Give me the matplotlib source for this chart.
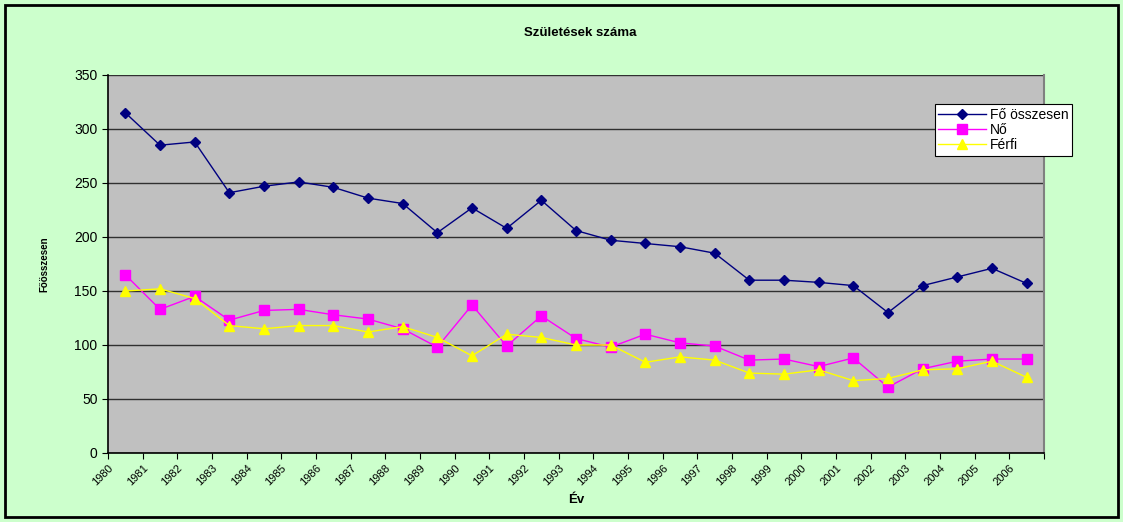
import matplotlib.pyplot as plt
import numpy as np
from matplotlib.patches import Rectangle

plt.rcParams['font.family'] = ['Liberation Sans', 'DejaVu Sans']

#Data
years = [str(y) for y in range(1980, 2007)]
fo_osszesen = [315, 285, 288, 241, 247, 251, 246, 236, 231, 204, 227, 208, 234, 206,
               197, 194, 191, 185, 160, 160, 158, 155, 130, 155, 163, 171, 157]
no = [165, 133, 145, 123, 132, 133, 128, 124, 115, 98, 137, 99, 127, 106,
      98, 110, 102, 99, 86, 87, 80, 88, 61, 78, 85, 87, 87]
ferfi = [150, 152, 143, 118, 115, 118, 118, 112, 117, 107, 90, 110, 107, 100,
         100, 84, 89, 86, 74, 73, 77, 67, 69, 77, 78, 85, 70]

bg = '#CCFFCC'
fig = plt.figure(figsize=(11.23, 5.22), dpi=100, facecolor=bg)
ax = fig.add_axes([108/1123, 69/522, 936/1123, 378/522])
ax.set_facecolor('#C0C0C0')

#Outer border
fig.patches.append(Rectangle((5/1123, 5/522), 1113/1123, 512/522, transform=fig.transFigure,
                             fill=False, edgecolor='black', linewidth=2))

x = np.arange(len(years)) + 0.5
ax.plot(x, fo_osszesen, color='#000080', marker='D', markersize=5.5, linewidth=1, label='Fő összesen', zorder=3)
ax.plot(x, no, color='#FF00FF', marker='s', markersize=6.5, linewidth=1, label='Nő', zorder=3)
ax.plot(x, ferfi, color='#FFFF00', marker='^', markersize=7.5, linewidth=1, label='Férfi', zorder=3)

ax.set_xlim(0, len(years))
ax.set_ylim(0, 350)
ax.set_yticks(np.arange(0, 351, 50))
ax.set_xticks(np.arange(len(years) + 1))
ax.set_xticklabels(years + [''], rotation=45, ha='right', rotation_mode='anchor', fontsize=8)
ax.tick_params(axis='y', labelsize=10, length=4, direction='out')
ax.tick_params(axis='x', length=4, direction='out', pad=3)
ax.yaxis.grid(True, color='#303030', linewidth=1)
ax.set_axisbelow(True)

ax.spines['top'].set_visible(False)
ax.spines['right'].set_color('#808080')
ax.spines['right'].set_linewidth(1.5)
ax.spines['left'].set_linewidth(1.2)
ax.spines['bottom'].set_linewidth(1.2)

ax.set_xlabel('Év', fontsize=9.5, fontweight='bold', labelpad=5)
ax.set_ylabel('Főösszesen', fontsize=7, fontweight='bold', labelpad=18)
fig.text(580/1123, 1 - 33/522, 'Születések száma', ha='center', va='center', fontsize=9.5, fontweight='bold')

leg = ax.legend(loc='upper left', bbox_to_anchor=(0.8835, 0.923), fancybox=False, framealpha=1,
                edgecolor='black', facecolor='white', fontsize=10, borderaxespad=0,
                handlelength=3.4, handletextpad=0.3, labelspacing=0.1, borderpad=0.25)
leg.get_frame().set_linewidth(0.8)

plt.savefig('out.png', dpi=100, facecolor=bg)
